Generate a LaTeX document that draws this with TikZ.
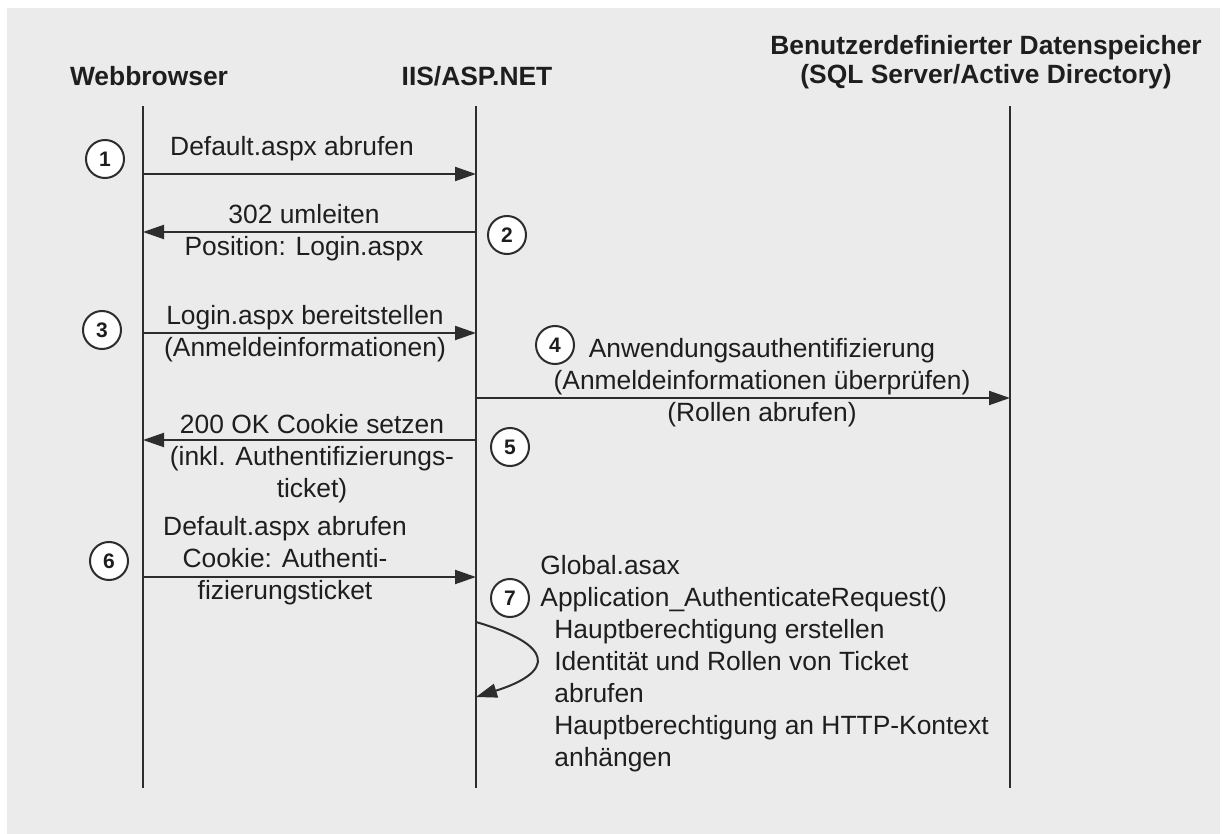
\documentclass[tikz,border=0pt]{standalone}
\usepackage{fontspec}
\setmainfont{Liberation Sans}
\usetikzlibrary{arrows.meta}
\definecolor{bg}{RGB}{235,235,235}
\definecolor{ln}{RGB}{45,45,45}
\definecolor{tx}{RGB}{30,30,30}
\begin{document}
\begin{tikzpicture}[x=0.5pt,y=-0.5pt,
 lifeline/.style={draw=ln, line width=1pt},
 msg/.style={draw=ln, line width=1pt, -{Triangle[length=10.5pt,width=7pt]}},
 lbl/.style={text=tx, font=\fontsize{13.2}{16}\selectfont, align=center, inner sep=0pt},
 lbll/.style={lbl, align=left, anchor=west},
 hdr/.style={text=tx, font=\fontsize{13.2}{14.5}\selectfont\bfseries, align=center, inner sep=0pt},
 num/.style={circle, draw=ln, line width=1pt, fill=white, minimum size=19pt, inner sep=0pt, font=\fontsize{10.5}{10.5}\selectfont\bfseries, text=tx},
]
\useasboundingbox (0,0) rectangle (1222,834);
\fill[white] (0,0) rectangle (1222,834);
\fill[bg] (7,8) rectangle (1220,834);

% headers
\node[hdr] (hweb) at (149,76) {Webbrowser};
\node[hdr] (hiis) at (477,76) {IIS/ASP.NET};
\node[hdr] (hdb) at (986,62) {Benutzerdefinierter Datenspeicher\\(SQL Server/Active Directory)};

% lifelines
\coordinate (wt) at (143,106); \coordinate (wb) at (143,788);
\coordinate (it) at (476,106); \coordinate (ib) at (476,788);
\coordinate (dt) at (1010,106); \coordinate (db) at (1010,788);
\draw[lifeline] (wt) -- (wb);
\draw[lifeline] (it) -- (ib);
\draw[lifeline] (dt) -- (db);

% message anchor points
\coordinate (w1) at (143,174); \coordinate (i1) at (476,174);
\coordinate (w2) at (143,232); \coordinate (i2) at (476,232);
\coordinate (w3) at (143,333); \coordinate (i3) at (476,333);
\coordinate (i4) at (476,398); \coordinate (d4) at (1010,398);
\coordinate (w5) at (143,440); \coordinate (i5) at (476,440);
\coordinate (w6) at (143,577); \coordinate (i6) at (476,577);
\coordinate (i7a) at (476,622); \coordinate (i7b) at (476,697);

\draw[msg] (w1) -- (i1);
\draw[msg] (i2) -- (w2);
\draw[msg] (w3) -- (i3);
\draw[msg] (i4) -- (d4);
\draw[msg] (i5) -- (w5);
\draw[msg] (w6) -- (i6);
\draw[msg] (i7a) .. controls (555,645) and (555,672) .. (i7b);

% labels
\node[lbl] (t1) at (292,149) {Default.aspx abrufen};
\node[lbl] (t2) at (304,233) {302 umleiten\\Position: Login.aspx};
\node[lbl] (t3) at (305,334) {Login.aspx bereitstellen\\(Anmeldeinformationen)};
\node[lbl] (t4) at (762,383) {Anwendungsauthentifizierung\\(Anmeldeinformationen überprüfen)\\(Rollen abrufen)};
\node[lbl] (t5) at (312,459) {200 OK Cookie setzen\\(inkl. Authentifizierungs-\\ticket)};
\node[lbl] (t6) at (285,561) {Default.aspx abrufen\\Cookie: Authenti-\\fizierungsticket};
\node[lbll] (t7a) at (540,584) {Global.asax\\Application\_AuthenticateRequest()};
\node[lbll] (t7b) at (554,696) {Hauptberechtigung erstellen\\Identität und Rollen von Ticket\\abrufen\\Hauptberechtigung an HTTP-Kontext\\anhängen};

% step numbers
\node[num] (c1) at (105,159) {1};
\node[num] (c2) at (507,235) {2};
\node[num] (c3) at (102,330) {3};
\node[num] (c4) at (555,345) {4};
\node[num] (c5) at (510,447) {5};
\node[num] (c6) at (109,561) {6};
\node[num] (c7) at (510,598) {7};
\end{tikzpicture}
\end{document}
